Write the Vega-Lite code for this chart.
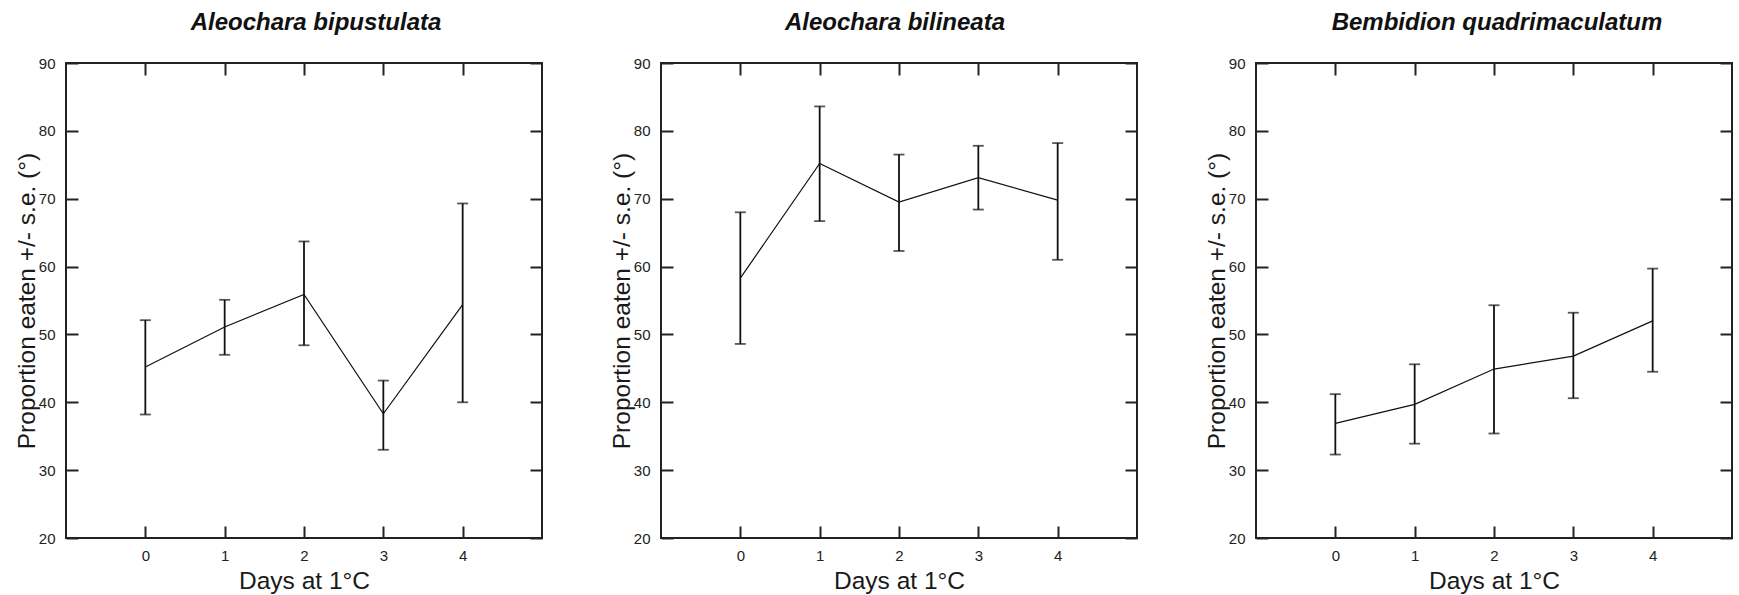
{
  "$schema": "https://vega.github.io/schema/vega-lite/v6.json",
  "background": "white",
  "padding": {"left": 13, "top": 10, "right": 0, "bottom": 0},
  "bounds": "flush",
  "spacing": 119,
  "data": {
    "values": [
      {"species": "Aleochara bipustulata", "day": 0, "mean": 45.2, "lo": 38.2, "hi": 52.1},
      {"species": "Aleochara bipustulata", "day": 1, "mean": 51.1, "lo": 47.0, "hi": 55.1},
      {"species": "Aleochara bipustulata", "day": 2, "mean": 55.9, "lo": 48.4, "hi": 63.7},
      {"species": "Aleochara bipustulata", "day": 3, "mean": 38.3, "lo": 33.0, "hi": 43.2},
      {"species": "Aleochara bipustulata", "day": 4, "mean": 54.4, "lo": 40.0, "hi": 69.3},
      {"species": "Aleochara bilineata", "day": 0, "mean": 58.3, "lo": 48.6, "hi": 68.0},
      {"species": "Aleochara bilineata", "day": 1, "mean": 75.2, "lo": 66.7, "hi": 83.6},
      {"species": "Aleochara bilineata", "day": 2, "mean": 69.5, "lo": 62.3, "hi": 76.5},
      {"species": "Aleochara bilineata", "day": 3, "mean": 73.1, "lo": 68.4, "hi": 77.8},
      {"species": "Aleochara bilineata", "day": 4, "mean": 69.8, "lo": 61.0, "hi": 78.2},
      {"species": "Bembidion quadrimaculatum", "day": 0, "mean": 36.9, "lo": 32.3, "hi": 41.2},
      {"species": "Bembidion quadrimaculatum", "day": 1, "mean": 39.7, "lo": 33.9, "hi": 45.6},
      {"species": "Bembidion quadrimaculatum", "day": 2, "mean": 44.9, "lo": 35.4, "hi": 54.3},
      {"species": "Bembidion quadrimaculatum", "day": 3, "mean": 46.8, "lo": 40.6, "hi": 53.2},
      {"species": "Bembidion quadrimaculatum", "day": 4, "mean": 52.0, "lo": 44.5, "hi": 59.7}
    ]
  },
  "hconcat": [
    {
      "width": 476, "height": 475,
      "title": {"text": "Aleochara bipustulata", "dx": 12},
      "transform": [{"filter": "datum.species === 'Aleochara bipustulata'"}],
      "resolve": {"axis": {"x": "independent", "y": "independent"}},
      "layer": [
        {
          "mark": {"type": "rule", "strokeWidth": 1.8, "color": "#111"},
          "encoding": {
            "x": {"field": "day", "type": "quantitative", "scale": {"domain": [-1, 5], "nice": false, "zero": false},
                  "axis": {"orient": "bottom", "values": [0, 1, 2, 3, 4], "title": "Days at 1°C", "titleBaseline": "alphabetic", "titleY": 50}},
            "y": {"field": "lo", "type": "quantitative", "scale": {"domain": [20, 90], "nice": false, "zero": false},
                  "axis": {"orient": "left", "values": [20, 30, 40, 50, 60, 70, 80, 90], "title": "Proportion eaten +/- s.e. (°)", "titleBaseline": "alphabetic", "titleX": -32}},
            "y2": {"field": "hi"}
          }
        },
        {
          "mark": {"type": "line", "strokeWidth": 1.2, "color": "#111"},
          "encoding": {
            "x": {"field": "day", "type": "quantitative", "axis": {"orient": "top", "values": [0, 1, 2, 3, 4], "labels": false, "title": null}},
            "y": {"field": "mean", "type": "quantitative", "axis": {"orient": "right", "values": [20, 30, 40, 50, 60, 70, 80, 90], "labels": false, "title": null}}
          }
        },
        {
          "mark": {"type": "tick", "orient": "horizontal", "size": 11, "thickness": 1.8, "color": "#111"},
          "encoding": {
            "x": {"field": "day", "type": "quantitative", "axis": null},
            "y": {"field": "hi", "type": "quantitative", "axis": null}
          }
        },
        {
          "mark": {"type": "tick", "orient": "horizontal", "size": 11, "thickness": 1.8, "color": "#111"},
          "encoding": {
            "x": {"field": "day", "type": "quantitative", "axis": null},
            "y": {"field": "lo", "type": "quantitative", "axis": null}
          }
        }
      ]
    },
    {
      "width": 476, "height": 475,
      "title": {"text": "Aleochara bilineata", "dx": -4},
      "transform": [{"filter": "datum.species === 'Aleochara bilineata'"}],
      "resolve": {"axis": {"x": "independent", "y": "independent"}},
      "layer": [
        {
          "mark": {"type": "rule", "strokeWidth": 1.8, "color": "#111"},
          "encoding": {
            "x": {"field": "day", "type": "quantitative", "scale": {"domain": [-1, 5], "nice": false, "zero": false},
                  "axis": {"orient": "bottom", "values": [0, 1, 2, 3, 4], "title": "Days at 1°C", "titleBaseline": "alphabetic", "titleY": 50}},
            "y": {"field": "lo", "type": "quantitative", "scale": {"domain": [20, 90], "nice": false, "zero": false},
                  "axis": {"orient": "left", "values": [20, 30, 40, 50, 60, 70, 80, 90], "title": "Proportion eaten +/- s.e. (°)", "titleBaseline": "alphabetic", "titleX": -32}},
            "y2": {"field": "hi"}
          }
        },
        {
          "mark": {"type": "line", "strokeWidth": 1.2, "color": "#111"},
          "encoding": {
            "x": {"field": "day", "type": "quantitative", "axis": {"orient": "top", "values": [0, 1, 2, 3, 4], "labels": false, "title": null}},
            "y": {"field": "mean", "type": "quantitative", "axis": {"orient": "right", "values": [20, 30, 40, 50, 60, 70, 80, 90], "labels": false, "title": null}}
          }
        },
        {
          "mark": {"type": "tick", "orient": "horizontal", "size": 11, "thickness": 1.8, "color": "#111"},
          "encoding": {
            "x": {"field": "day", "type": "quantitative", "axis": null},
            "y": {"field": "hi", "type": "quantitative", "axis": null}
          }
        },
        {
          "mark": {"type": "tick", "orient": "horizontal", "size": 11, "thickness": 1.8, "color": "#111"},
          "encoding": {
            "x": {"field": "day", "type": "quantitative", "axis": null},
            "y": {"field": "lo", "type": "quantitative", "axis": null}
          }
        }
      ]
    },
    {
      "width": 476, "height": 475,
      "title": {"text": "Bembidion quadrimaculatum", "dx": 3},
      "transform": [{"filter": "datum.species === 'Bembidion quadrimaculatum'"}],
      "resolve": {"axis": {"x": "independent", "y": "independent"}},
      "layer": [
        {
          "mark": {"type": "rule", "strokeWidth": 1.8, "color": "#111"},
          "encoding": {
            "x": {"field": "day", "type": "quantitative", "scale": {"domain": [-1, 5], "nice": false, "zero": false},
                  "axis": {"orient": "bottom", "values": [0, 1, 2, 3, 4], "title": "Days at 1°C", "titleBaseline": "alphabetic", "titleY": 50}},
            "y": {"field": "lo", "type": "quantitative", "scale": {"domain": [20, 90], "nice": false, "zero": false},
                  "axis": {"orient": "left", "values": [20, 30, 40, 50, 60, 70, 80, 90], "title": "Proportion eaten +/- s.e. (°)", "titleBaseline": "alphabetic", "titleX": -32}},
            "y2": {"field": "hi"}
          }
        },
        {
          "mark": {"type": "line", "strokeWidth": 1.2, "color": "#111"},
          "encoding": {
            "x": {"field": "day", "type": "quantitative", "axis": {"orient": "top", "values": [0, 1, 2, 3, 4], "labels": false, "title": null}},
            "y": {"field": "mean", "type": "quantitative", "axis": {"orient": "right", "values": [20, 30, 40, 50, 60, 70, 80, 90], "labels": false, "title": null}}
          }
        },
        {
          "mark": {"type": "tick", "orient": "horizontal", "size": 11, "thickness": 1.8, "color": "#111"},
          "encoding": {
            "x": {"field": "day", "type": "quantitative", "axis": null},
            "y": {"field": "hi", "type": "quantitative", "axis": null}
          }
        },
        {
          "mark": {"type": "tick", "orient": "horizontal", "size": 11, "thickness": 1.8, "color": "#111"},
          "encoding": {
            "x": {"field": "day", "type": "quantitative", "axis": null},
            "y": {"field": "lo", "type": "quantitative", "axis": null}
          }
        }
      ]
    }
  ],
  "config": {
    "font": "Liberation Sans",
    "view": {"stroke": "#222", "strokeWidth": 2},
    "title": {"font": "Liberation Sans", "fontSize": 24, "fontStyle": "italic", "fontWeight": "bold", "color": "#111", "baseline": "alphabetic", "offset": 21, "anchor": "middle"},
    "axis": {
      "domain": false, "grid": false,
      "tickSize": -12, "tickWidth": 2, "tickColor": "#222",
      "labelFont": "Liberation Sans", "labelFontSize": 15, "labelColor": "#222",
      "titleFont": "Liberation Sans", "titleFontSize": 24.5, "titleFontWeight": "normal", "titleColor": "#1a1a1a"
    },
    "axisX": {"labelPadding": 22},
    "axisY": {"labelPadding": 23}
  }
}
